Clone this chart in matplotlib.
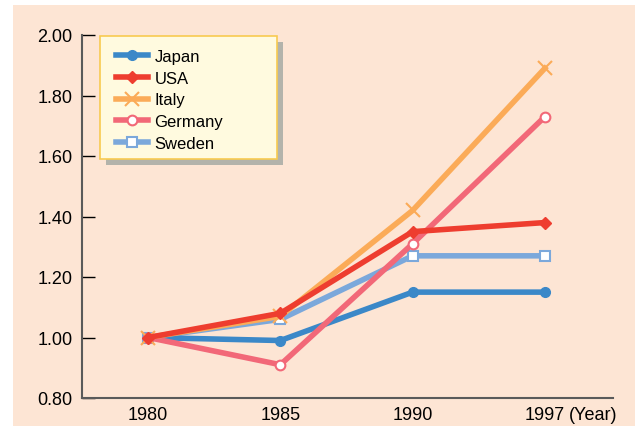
import matplotlib
matplotlib.use("Agg")
import matplotlib.pyplot as plt
from matplotlib.patches import Rectangle

# price index, 1980 = 1.00
years = ["1980", "1985", "1990", "1997"]
japan = [1.00, 0.99, 1.15, 1.15]
usa = [1.00, 1.08, 1.35, 1.38]
italy = [1.00, 1.07, 1.42, 1.89]
germany = [1.00, 0.91, 1.31, 1.73]
sweden = [1.00, 1.06, 1.27, 1.27]
yticks = [0.80, 1.00, 1.20, 1.40, 1.60, 1.80, 2.00]

plt.rcParams['font.family'] = ['Liberation Sans', 'DejaVu Sans']

bg = "#fde5d4"
fig = plt.figure(figsize=(6.35, 4.27), dpi=100)
fig.patch.set_facecolor("white")
# peach panel below a thin white strip
fig.patches.append(Rectangle((13 / 635, 0), 1, 1 - 6 / 427, transform=fig.transFigure,
                             facecolor=bg, edgecolor="none", zorder=-5))

ax = fig.add_axes([82 / 635, 28 / 427, 531 / 635, 363 / 427])
ax.set_zorder(2)
ax.set_facecolor("none")
x = list(range(len(years)))

series = [
    ("Sweden", sweden, "#7ba8db", dict(marker="s", mfc="white", mec="#7ba8db", ms=7, mew=1.5), 2),
    ("Japan", japan, "#3b88c8", dict(marker="o", mfc="#3b88c8", mec="#3b88c8", ms=7), 3),
    ("Germany", germany, "#f26878", dict(marker="o", mfc="white", mec="#f26878", ms=7, mew=1.5), 4),
    ("Italy", italy, "#fbab58", dict(marker="x", mfc="#fbab58", mec="#fbab58", ms=10, mew=1.5), 5),
    ("USA", usa, "#ee3d2f", dict(marker="D", mfc="#ee3d2f", mec="#ee3d2f", ms=6), 6),
]
handles = {}
for name, vals, col, mk, z in series:
    ln, = ax.plot(x, vals, color=col, lw=4, zorder=z, solid_joinstyle="miter", **mk)
    handles[name] = ln

ax.set_xlim(-0.5, 3.515)
ax.set_ylim(0.8, 2.0)
ax.set_xticks(x)
ax.set_xticklabels(years)
ax.set_yticks(yticks)
ax.set_yticklabels(["%.2f" % v for v in yticks])
ax.tick_params(axis="y", direction="in", length=9, width=1, pad=7, labelsize=13)
ax.tick_params(axis="x", length=0, pad=6, labelsize=13)
for s in ["top", "right"]:
    ax.spines[s].set_visible(False)
for s in ["left", "bottom"]:
    ax.spines[s].set_color("#5a5a5a")
    ax.spines[s].set_linewidth(1.5)

ax.text(3.18, -0.021, "(Year)", transform=ax.get_xaxis_transform(),
        ha="left", va="top", fontsize=13)

# legend panel with drop shadow
lx0, ly0, lw, lh = 18 / 531, 239 / 363, 177 / 531, 123 / 363
ax.add_patch(Rectangle((lx0 + 6 / 531, ly0 - 6 / 363), lw, lh, transform=ax.transAxes,
                       facecolor="#b3b3ab", edgecolor="none", zorder=7, clip_on=False))
ax.add_patch(Rectangle((lx0, ly0), lw, lh, transform=ax.transAxes,
                       facecolor="#fffadf", edgecolor="#f8ca50", lw=1.2, zorder=8, clip_on=False))
order = ["Japan", "USA", "Italy", "Germany", "Sweden"]
leg = ax.legend([handles[n] for n in order], order, loc="upper left",
                bbox_to_anchor=(lx0 + 1 / 531, ly0 + lh + 2 / 363), frameon=False,
                handlelength=1.9, handletextpad=0.4, labelspacing=0.4,
                prop={"family": ["Liberation Sans Narrow", "Liberation Sans"], "size": 12})
leg.set_zorder(9)

fig.savefig("out.png", dpi=100, facecolor=fig.get_facecolor())
